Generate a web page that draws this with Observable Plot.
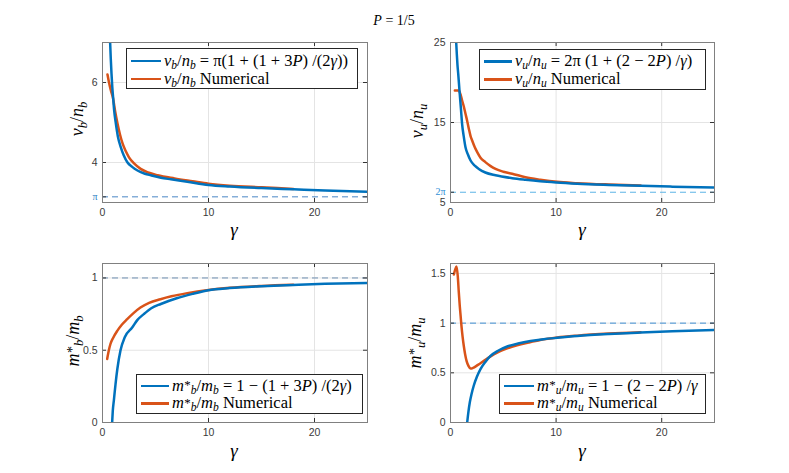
<!DOCTYPE html>
<html><head><meta charset="utf-8">
<script src="https://cdn.jsdelivr.net/npm/d3@7"></script>
<script src="https://cdn.jsdelivr.net/npm/@observablehq/plot@0.6"></script>
<style>
body{margin:0;background:#fff;width:789px;height:473px;overflow:hidden;position:relative;}
.abs{position:absolute;}
.m{font-family:"Liberation Serif","DejaVu Serif",serif;color:#000;white-space:nowrap;line-height:1;}
.leg{position:absolute;border:1px solid #262626;background:#fff;box-sizing:border-box;}
.row{position:absolute;display:flex;align-items:center;height:18px;}
sub{font-size:0.7em;vertical-align:-0.28em;line-height:0;}
sup{font-size:0.78em;vertical-align:0.12em;line-height:0;margin-left:0.03em;}
</style></head><body>
<script>
// ---------- data ----------
const xTicks = [0, 10, 20];
const P_LABEL = "<i>P</i> = 1/5";

// top-left: v_b/n_b
const gBlueVb = [0.72, 0.78, 0.85, 0.92, 1.0, 1.1, 1.26, 1.45, 1.73, 2.0, 2.36, 2.8, 3.3, 4.0, 4.56, 5.5, 6.45, 8, 10, 12, 15, 18, 21, 25];
const vBlueVb = [7.0, 6.6, 6.22, 5.9, 5.63, 5.3, 4.97, 4.65, 4.38, 4.18, 4.0, 3.89, 3.8, 3.72, 3.68, 3.62, 3.58, 3.52, 3.44, 3.40, 3.36, 3.33, 3.30, 3.27];
const gOrangeVb = [0.47, 0.6, 0.79, 1.0, 1.2, 1.42, 1.65, 1.9, 2.2, 2.5, 3.0, 3.6, 4.3, 5.2, 6.8, 8.5, 10, 12, 15, 18];
const vOrangeVb = [6.2, 6.02, 5.8, 5.6, 5.27, 4.97, 4.7, 4.47, 4.28, 4.13, 3.97, 3.84, 3.75, 3.68, 3.6, 3.53, 3.47, 3.42, 3.38, 3.34];
const yTicksVb = [4, 6];
const refVb = Math.PI;

// top-right: v_u/n_u
const gBlueVu = [0.54, 0.6, 0.66, 0.73, 0.85, 1.0, 1.1, 1.25, 1.42, 1.65, 1.9, 2.3, 2.68, 3.3, 4.26, 5.84, 7.1, 8.5, 10, 12, 15, 18, 21, 25];
const vBlueVu = [25, 23.5, 22.2, 21.1, 19.0, 16.5, 14.8, 13.3, 11.9, 11.0, 10.25, 9.6, 9.2, 8.75, 8.4, 8.04, 7.84, 7.65, 7.5, 7.35, 7.2, 7.08, 6.98, 6.86];
const gOrangeVu = [0.41, 0.6, 0.79, 0.95, 1.1, 1.26, 1.42, 1.58, 1.74, 1.9, 2.05, 2.3, 2.53, 2.84, 3.3, 3.8, 4.26, 5.0, 5.84, 7.1, 8.5, 10.1, 12, 15, 18];
const vOrangeVu = [19, 19, 19, 18.5, 17.75, 17.0, 16.1, 15.2, 14.2, 13.3, 12.75, 11.9, 11.3, 10.6, 10.05, 9.55, 9.2, 8.85, 8.6, 8.16, 7.85, 7.58, 7.42, 7.25, 7.12];
const yTicksVu = [5, 15, 25];
const refVu = 2 * Math.PI;

// bottom-left: m*_b/m_b
const gBlueMb = [0.91, 0.97, 1.07, 1.15, 1.23, 1.4, 1.7, 2.1, 2.8, 3.3, 3.9, 4.6, 5.5, 7, 8.5, 10, 12, 15, 18, 21, 25];
const vBlueMb = [0, 0.08, 0.152, 0.21, 0.266, 0.37, 0.5, 0.59, 0.657, 0.71, 0.75, 0.79, 0.82, 0.86, 0.89, 0.915, 0.93, 0.943, 0.952, 0.96, 0.966];
const gOrangeMb = [0.44, 0.6, 0.75, 1.0, 1.39, 1.8, 2.33, 2.9, 3.58, 4.4, 5.47, 6.5, 8, 10, 12, 15, 18];
const vOrangeMb = [0.44, 0.5, 0.543, 0.585, 0.634, 0.675, 0.715, 0.755, 0.795, 0.828, 0.853, 0.873, 0.895, 0.917, 0.932, 0.945, 0.953];
const yTicksMb = [0, 0.5, 1];
const refMb = 1;

// bottom-right: m*_u/m_u
const gBlueMu = [1.58, 1.7, 1.83, 2.0, 2.2, 2.5, 2.84, 3.3, 3.79, 4.5, 5.37, 6.4, 7.58, 8.8, 10.1, 12, 15, 18, 21, 25];
const vBlueMu = [0, 0.11, 0.203, 0.29, 0.37, 0.46, 0.537, 0.61, 0.67, 0.722, 0.765, 0.795, 0.82, 0.838, 0.852, 0.87, 0.89, 0.905, 0.918, 0.932];
const gOrangeMu = [0.32, 0.45, 0.57, 0.69, 0.78, 0.88, 0.96, 1.04, 1.15, 1.26, 1.38, 1.52, 1.7, 1.9, 2.05, 2.2, 2.6, 3.16, 3.8, 4.42, 5.3, 6.3, 7.4, 8.5, 10.1, 12, 15, 18];
const vOrangeMu = [1.49, 1.54, 1.57, 1.47, 1.32, 1.17, 1.07, 0.97, 0.86, 0.77, 0.69, 0.62, 0.57, 0.543, 0.545, 0.553, 0.58, 0.62, 0.665, 0.703, 0.743, 0.777, 0.805, 0.83, 0.855, 0.874, 0.895, 0.909];
const yTicksMu = [0, 0.5, 1, 1.5];
const refMu = 1;

// labels
const vb = "<i>v</i><sub><i>b</i></sub>/<i>n</i><sub><i>b</i></sub>";
const vu = "<i>v</i><sub><i>u</i></sub>/<i>n</i><sub><i>u</i></sub>";
const mb = "<i>m</i><sup>*</sup><sub><i>b</i></sub>/<i>m</i><sub><i>b</i></sub>";
const mu = "<i>m</i><sup>*</sup><sub><i>u</i></sub>/<i>m</i><sub><i>u</i></sub>";
const legendVb = [vb + " = π(1 + (1 + 3<i>P</i>) /(2<i>γ</i>))", vb + " Numerical"];
const legendVu = [vu + " = 2π (1 + (2 − 2<i>P</i>) /<i>γ</i>)", vu + " Numerical"];
const legendMb = [mb + " = 1 − (1 + 3<i>P</i>) /(2<i>γ</i>)", mb + " Numerical"];
const legendMu = [mu + " = 1 − (2 − 2<i>P</i>) /<i>γ</i>", mu + " Numerical"];

const BLUE = "#0072BD", ORANGE = "#D95319";

// ---------- drawing ----------
const zip = (g, v) => g.map((x, i) => ({x, y: v[i]}));

function panel(cfg) {
  const ml = 50, mt = 10, mr = 10, mb = 26;
  const fw = cfg.fw, fh = cfg.fh;
  const W = fw + ml + mr, H = fh + mt + mb;
  const allY = cfg.special ? [...cfg.yt, cfg.special.v] : cfg.yt;
  const marks = [
    Plot.ruleX(xTicks, {x: d => d, stroke: "#e4e4e4"}),
    Plot.ruleY(cfg.yt, {y: d => d, stroke: "#e4e4e4"}),
    Plot.ruleY([cfg.ref], {y: d => d, stroke: cfg.dash, strokeDasharray: "6,4", strokeWidth: 1}),
    Plot.line(zip(cfg.go, cfg.vo), {x: "x", y: "y", stroke: ORANGE, strokeWidth: 2.5, curve: "monotone-x", clip: true}),
    Plot.line(zip(cfg.gb, cfg.vb), {x: "x", y: "y", stroke: BLUE, strokeWidth: 2.5, curve: "monotone-x", clip: true}),
    Plot.tickX(xTicks, {x: d => d, insetTop: fh - 4, stroke: "#333"}),
    Plot.tickX(xTicks, {x: d => d, insetBottom: fh - 4, stroke: "#333"}),
    Plot.tickY(allY, {y: d => d, insetRight: fw - 4, stroke: "#333"}),
    Plot.tickY(allY, {y: d => d, insetLeft: fw - 4, stroke: "#333"}),
    Plot.axisX(xTicks, {tickSize: 0, tickPadding: 6, label: null, fill: "#3a3a3a", fontSize: 10.5}),
    Plot.axisY(cfg.yt, {tickSize: 0, tickPadding: 5, label: null, fill: "#3a3a3a", fontSize: 10.5, tickFormat: d => String(d)}),
    Plot.frame({stroke: "#808080"})
  ];
  if (cfg.special) {
    marks.splice(marks.length - 1, 0,
      Plot.axisY([cfg.special.v], {tickSize: 0, tickPadding: 5, label: null, fill: cfg.special.color, fontSize: 10, tickFormat: () => cfg.special.text, fontFamily: "Liberation Serif, serif"}));
  }
  const svg = Plot.plot({
    width: W, height: H, marginLeft: ml, marginTop: mt, marginRight: mr, marginBottom: mb,
    x: {domain: [0, 25]}, y: {domain: cfg.ydom},
    style: {fontFamily: "Liberation Sans, Arial, sans-serif", fontSize: "10.5px", background: "transparent", overflow: "visible"},
    marks
  });
  svg.style.position = "absolute";
  svg.style.left = (cfg.fx - ml) + "px";
  svg.style.top = (cfg.fy - mt) + "px";
  document.body.appendChild(svg);
}

function html(x, y, content, size, rotate) {
  const d = document.createElement("div");
  d.className = "abs m";
  d.style.left = x + "px"; d.style.top = y + "px";
  d.style.fontSize = size + "px";
  d.style.transform = "translate(-50%,-50%)" + (rotate ? " rotate(-90deg)" : "");
  d.innerHTML = content;
  document.body.appendChild(d);
}

function legend(b, items) {
  const d = document.createElement("div");
  d.className = "leg";
  Object.assign(d.style, {left: b.x + "px", top: b.y + "px", width: b.w + "px", height: b.h + "px"});
  items.forEach((txt, i) => {
    const r = document.createElement("div");
    r.className = "row m";
    r.style.top = (b.rows[i] - 9) + "px";
    r.style.left = b.lx + "px";
    r.innerHTML = `<span style="display:inline-block;width:${b.lw}px;height:2.5px;background:${i ? ORANGE : BLUE};margin-right:${b.gap}px"></span><span style="font-size:${b.fs}px">${txt}</span>`;
    d.appendChild(r);
  });
  document.body.appendChild(d);
}

panel({fx: 102, fy: 42, fw: 265, fh: 160, ydom: [3, 7], yt: yTicksVb, ref: refVb, dash: "#4a86c5",
  gb: gBlueVb, vb: vBlueVb, go: gOrangeVb, vo: vOrangeVb, special: {v: refVb, text: "π", color: "#2f7fc4"}});
panel({fx: 450, fy: 42, fw: 264, fh: 160, ydom: [5, 25], yt: yTicksVu, ref: refVu, dash: "#5cb3e6",
  gb: gBlueVu, vb: vBlueVu, go: gOrangeVu, vo: vOrangeVu, special: {v: refVu, text: "2π", color: "#2f8fd6"}});
panel({fx: 102, fy: 263, fw: 265, fh: 159, ydom: [0, 1.1], yt: yTicksMb, ref: refMb, dash: "#6f8fb3",
  gb: gBlueMb, vb: vBlueMb, go: gOrangeMb, vo: vOrangeMb});
panel({fx: 450, fy: 263, fw: 264, fh: 159, ydom: [0, 1.6], yt: yTicksMu, ref: refMu, dash: "#3f8fd2",
  gb: gBlueMu, vb: vBlueMu, go: gOrangeMu, vo: vOrangeMu});

// title & axis labels
html(394, 21, P_LABEL, 14);
html(77, 119, vb, 18, true);
html(417, 121, vu, 18, true);
html(73, 341, mb, 18, true);
html(415, 343, mu, 18, true);
html(234, 229, "<i>γ</i>", 19);
html(582, 229, "<i>γ</i>", 19);
html(234, 450, "<i>γ</i>", 19);
html(582, 450, "<i>γ</i>", 19);

// legends
legend({x: 126, y: 48, w: 232, h: 41, rows: [12, 30], lx: 4, lw: 30, gap: 3, fs: 16.5}, legendVb);
legend({x: 479, y: 49, w: 227, h: 41, rows: [11.5, 29.5], lx: 4, lw: 28, gap: 3, fs: 16.5}, legendVu);
legend({x: 136, y: 374, w: 227, h: 40, rows: [11, 28.5], lx: 4, lw: 28, gap: 3, fs: 16.5}, legendMb);
legend({x: 499, y: 374, w: 207, h: 40, rows: [11, 28.5], lx: 4, lw: 30, gap: 3, fs: 16.5}, legendMu);
</script>
</body></html>
